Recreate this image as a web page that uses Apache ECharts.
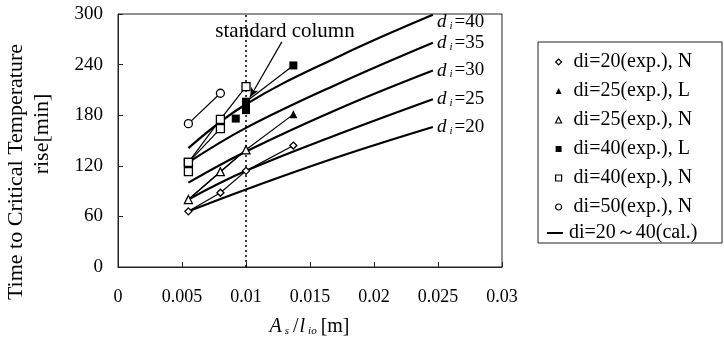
<!DOCTYPE html>
<html>
<head>
<meta charset="utf-8">
<script src="https://cdn.jsdelivr.net/npm/echarts@6/dist/echarts.min.js"></script>
<style>
  html, body { margin: 0; padding: 0; background: #fff; }
  #chart { width: 724px; height: 348px; }
</style>
</head>
<body>
<div id="chart"></div>
<script>
// calculated curves (x positions shared)
var calX = [0.0055, 0.01, 0.0173, 0.0246];
var cal20 = [66, 92, 131, 166];
var cal25 = [80, 114, 158, 199];
var cal30 = [100, 137, 188, 233];
var cal35 = [124, 165, 218, 266];
var cal40 = [141, 193, 250, 299];
var calNames = ['20', '25', '30', '35', '40'];

// experiments
var di20N = [[0.0055, 66], [0.008, 88], [0.01, 114], [0.0137, 144]];
var di25L = [[0.0055, 80], [0.01, 139], [0.0137, 181]];
var di25N = [[0.0055, 80], [0.008, 113], [0.01, 139]];
var di40L_line = [[0.01, 196], [0.0137, 239]];
var di40L_pts = [[0.0092, 176], [0.01, 186], [0.01, 191]];
var di40N_a = [[0.0055, 124], [0.008, 175], [0.01, 214]];
var di40N_b = [[0.0055, 124], [0.008, 164]];
var di40N_pts = [[0.0055, 113]];
var di50N = [[0.0055, 170], [0.008, 206]];

var xTicks = [0, 0.005, 0.01, 0.015, 0.02, 0.025, 0.03];
var yTicks = [0, 60, 120, 180, 240, 300];

var serif = '"Liberation Serif", "Times New Roman", serif';
var calName = 'di=20～40(cal.)';

function zip(xs, ys) {
  return xs.map(function (x, i) { return [x, ys[i]]; });
}

var chart = echarts.init(document.getElementById('chart'));

var calSeries = [cal20, cal25, cal30, cal35, cal40].map(function (ys, i) {
  var s = {
    name: calName,
    type: 'line',
    data: zip(calX, ys),
    smooth: 0.4,
    symbol: 'none',
    lineStyle: { color: '#000', width: 2.2 },
    itemStyle: { color: '#000' },
    z: 2,
    endLabel: {
      show: true,
      distance: 4,
      offset: i === 4 ? [0, 7] : [0, 0],
      formatter: '{d|d}{i|i}{n|=' + calNames[i] + '}',
      rich: {
        d: { fontFamily: serif, fontStyle: 'italic', fontSize: 19, color: '#000' },
        i: { fontFamily: serif, fontStyle: 'italic', fontSize: 11, color: '#000', padding: [8, 2, 0, 3] },
        n: { fontFamily: serif, fontSize: 19, color: '#000' }
      }
    }
  };
  if (i === 0) {
    s.markLine = {
      silent: true,
      animation: false,
      label: { show: false },
      data: [
        [{ coord: [0.01, 0], symbol: 'none', lineStyle: { type: [2, 3], width: 1.5, color: '#000' } },
         { coord: [0.01, 300], symbol: 'none' }],
        [{ coord: [0.0128, 267], symbol: 'none', lineStyle: { type: 'solid', width: 1.2, color: '#000' } },
         { coord: [0.0103, 201], symbol: 'arrow', symbolSize: [6, 10] }]
      ]
    };
  }
  return s;
});

function expLine(name, data, symbol, size, open) {
  return {
    name: name,
    type: 'line',
    data: data,
    symbol: symbol,
    symbolSize: size,
    showSymbol: true,
    lineStyle: { color: '#000', width: 1.2 },
    itemStyle: open ? { color: '#fff', borderColor: '#000', borderWidth: 1.3 } : { color: '#000', borderColor: '#000', borderWidth: 0 },
    z: 5
  };
}

var expSeries = [
  expLine('di=20(exp.), N', di20N, 'diamond', 7, true),
  expLine('di=25(exp.), L', di25L, 'triangle', 8, false),
  expLine('di=25(exp.), N', di25N, 'triangle', 8, true),
  expLine('di=40(exp.), L', di40L_line, 'rect', 8, false),
  Object.assign(expLine('di=40(exp.), L', di40L_pts, 'rect', 8, false), { lineStyle: { width: 0 } }),
  expLine('di=40(exp.), N', di40N_a, 'rect', 8, true),
  expLine('di=40(exp.), N', di40N_b, 'rect', 8, true),
  Object.assign(expLine('di=40(exp.), N', di40N_pts, 'rect', 8, true), { lineStyle: { width: 0 } }),
  expLine('di=50(exp.), N', di50N, 'circle', 8, true)
];

var openStyle = { color: '#fff', borderColor: '#000', borderWidth: 1.2 };
var fillStyle = { color: '#000', borderWidth: 0 };

chart.setOption({
  animation: false,
  backgroundColor: '#fff',
  grid: {
    left: 118, right: 222, top: 14, bottom: 81,
    show: true, borderColor: '#222', borderWidth: 1
  },
  graphic: [
    {
      type: 'rect', silent: true,
      shape: { x: 538, y: 42, width: 184, height: 201 },
      style: { fill: 'none', stroke: '#222', lineWidth: 1 }
    },
    {
      type: 'text', silent: true,
      x: 16, y: 172, rotation: Math.PI / 2,
      style: { text: 'Time to Critical Temperature', font: '22px ' + serif, fill: '#000', align: 'center', verticalAlign: 'middle' }
    },
    {
      type: 'text', silent: true,
      x: 42, y: 134, rotation: Math.PI / 2,
      style: { text: 'rise[min]', font: '22px ' + serif, fill: '#000', align: 'center', verticalAlign: 'middle' }
    },
    {
      type: 'text', silent: true,
      x: 285, y: 31,
      style: { text: 'standard column', font: '21px ' + serif, fill: '#000', align: 'center', verticalAlign: 'middle' }
    }
  ],
  legend: [
    {
      orient: 'vertical',
      left: 550, top: 47,
      itemWidth: 6, itemHeight: 6, itemGap: 9,
      selectedMode: false,
      textStyle: { fontFamily: serif, fontSize: 20, color: '#000', lineHeight: 20, padding: [0, 0, 0, 7] },
      data: [
        { name: 'di=20(exp.), N', icon: 'diamond', itemStyle: openStyle },
        { name: 'di=25(exp.), L', icon: 'triangle', itemStyle: fillStyle },
        { name: 'di=25(exp.), N', icon: 'triangle', itemStyle: openStyle },
        { name: 'di=40(exp.), L', icon: 'rect', itemStyle: fillStyle },
        { name: 'di=40(exp.), N', icon: 'rect', itemStyle: openStyle },
        { name: 'di=50(exp.), N', icon: 'circle', itemStyle: openStyle }
      ]
    },
    {
      orient: 'vertical',
      left: 542, top: 218,
      itemWidth: 16, itemHeight: 2,
      selectedMode: false,
      textStyle: { fontFamily: serif, fontSize: 20, color: '#000', lineHeight: 20, padding: [0, 0, 0, 1] },
      data: [{ name: calName, icon: 'rect', itemStyle: { color: '#000' } }]
    }
  ],
  xAxis: {
    type: 'value',
    min: 0, max: 0.03, interval: 0.005,
    name: '{a|A}{s|s}{t|/}{a|l}{s|io}{t|[m]}',
    nameLocation: 'middle',
    nameGap: 50,
    nameTextStyle: {
      rich: {
        a: { fontFamily: serif, fontStyle: 'italic', fontSize: 20, color: '#000' },
        s: { fontFamily: serif, fontStyle: 'italic', fontSize: 11, color: '#000', padding: [8, 3, 0, 3] },
        t: { fontFamily: serif, fontSize: 20, color: '#000', padding: [0, 1, 0, 1] }
      }
    },
    axisLine: { lineStyle: { color: '#222', width: 1 } },
    axisTick: { inside: true, length: 5, lineStyle: { color: '#222' }, customValues: xTicks },
    axisLabel: { fontFamily: serif, fontSize: 18, color: '#000', margin: 21, customValues: xTicks },
    splitLine: { show: false }
  },
  yAxis: {
    type: 'value',
    min: 0, max: 300, interval: 60,
    axisLine: { show: true, lineStyle: { color: '#222', width: 1 } },
    axisTick: { show: true, inside: true, length: 5, lineStyle: { color: '#222' }, customValues: yTicks },
    axisLabel: { fontFamily: serif, fontSize: 19, color: '#000', margin: 15, customValues: yTicks },
    splitLine: { show: false }
  },
  series: calSeries.concat(expSeries)
});
</script>
</body>
</html>
